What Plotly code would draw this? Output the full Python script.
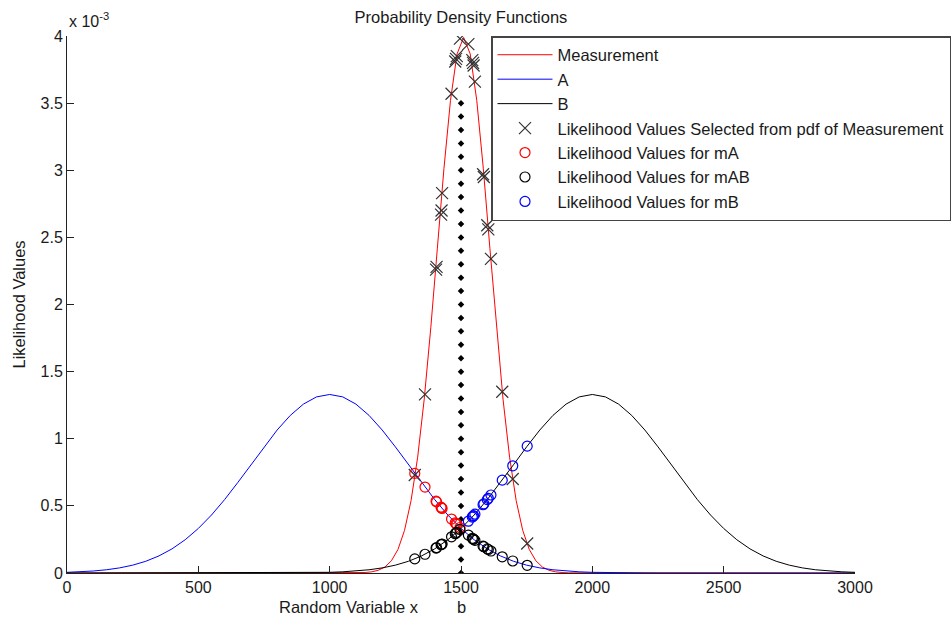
import plotly.graph_objects as go

# ---------------- data (likelihood values in units of 1e-3) ----------------
grid_x = [0, 50, 100, 150, 200, 250, 300, 350, 400, 450, 500, 550, 600, 650, 700, 750,
          800, 850, 900, 950, 1000, 1050, 1100, 1150, 1200, 1250, 1300, 1350, 1400, 1450,
          1500, 1550, 1600, 1650, 1700, 1750, 1800, 1850, 1900, 1950, 2000, 2050, 2100,
          2150, 2200, 2250, 2300, 2350, 2400, 2450, 2500, 2550, 2600, 2650, 2700, 2750,
          2800, 2850, 2900, 2950, 3000]

pdf_a = [0.0051, 0.0088, 0.0148, 0.0240, 0.0380, 0.0584, 0.0874, 0.1272, 0.1800, 0.2478,
         0.3318, 0.4319, 0.5467, 0.6734, 0.8066, 0.9398, 1.0650, 1.1737, 1.2580, 1.3117,
         1.3298, 1.3117, 1.2580, 1.1737, 1.0650, 0.9398, 0.8066, 0.6734, 0.5467, 0.4319,
         0.3318, 0.2478, 0.1800, 0.1272, 0.0874, 0.0584, 0.0380, 0.0240, 0.0148, 0.0088,
         0.0051, 0.0029, 0.0016, 0.0008, 0.0004, 0, 0, 0, 0, 0, 0, 0, 0, 0, 0, 0,
         0, 0, 0, 0, 0]

pdf_b = [0, 0, 0, 0, 0, 0, 0, 0, 0, 0, 0, 0, 0, 0, 0, 0,
         0.0004, 0.0008, 0.0016, 0.0029, 0.0051, 0.0088, 0.0148, 0.0240, 0.0380, 0.0584,
         0.0874, 0.1272, 0.1800, 0.2478, 0.3318, 0.4319, 0.5467, 0.6734, 0.8066, 0.9398,
         1.0650, 1.1737, 1.2580, 1.3117, 1.3298, 1.3117, 1.2580, 1.1737, 1.0650, 0.9398,
         0.8066, 0.6734, 0.5467, 0.4319, 0.3318, 0.2478, 0.1800, 0.1272, 0.0874, 0.0584,
         0.0380, 0.0240, 0.0148, 0.0088, 0.0051]

meas_x = [0, 1110, 1135, 1160, 1185, 1210, 1235, 1260, 1285, 1310, 1335, 1360, 1385, 1410,
          1435, 1460, 1485, 1510, 1535, 1560, 1585, 1610, 1635, 1660, 1685, 1710, 1735,
          1760, 1785, 1810, 1835, 1860, 1885, 1910, 3000]
meas_y = [0, 0.0013, 0.0035, 0.0087, 0.0203, 0.0443, 0.0909, 0.1753, 0.3174, 0.5399,
          0.8628, 1.2952, 1.8265, 2.4197, 3.0114, 3.5207, 3.8667, 3.9894, 3.8667, 3.5207,
          3.0114, 2.4197, 1.8265, 1.2952, 0.8628, 0.5399, 0.3174, 0.1753, 0.0909, 0.0443,
          0.0203, 0.0087, 0.0035, 0.0013, 0]

# samples left of b (x < 1500) and right of b
left_x = [1324, 1363, 1405, 1407, 1424, 1426, 1428, 1464, 1478, 1481, 1484, 1496]
left_meas = [0.73, 1.33, 2.26, 2.28, 2.67, 2.70, 2.83, 3.57, 3.81, 3.83, 3.85, 3.98]
left_a = [0.742, 0.640, 0.535, 0.530, 0.490, 0.485, 0.481, 0.402, 0.374, 0.368, 0.362, 0.339]
left_b = [0.105, 0.1395, 0.186, 0.1885, 0.2105, 0.213, 0.216, 0.2695, 0.2927, 0.2978, 0.303, 0.3243]

right_x = [1528, 1543, 1546, 1548, 1553, 1584, 1587, 1600, 1604, 1614, 1657, 1697, 1752]
right_meas = [3.94, 3.82, 3.80, 3.78, 3.66, 2.97, 2.95, 2.59, 2.56, 2.34, 1.35, 0.70, 0.22]
right_b = [0.3857, 0.4168, 0.4232, 0.4274, 0.4382, 0.5085, 0.5155, 0.5467, 0.5565, 0.5811,
           0.6918, 0.7984, 0.9450]
right_a = [0.2826, 0.2585, 0.2538, 0.2508, 0.2432, 0.1999, 0.1960, 0.1800, 0.1752, 0.1637,
           0.1208, 0.0895, 0.0574]

b_value = 1500
b_line_y = [0.0, 0.1, 0.2, 0.3, 0.4, 0.5, 0.6, 0.7, 0.8, 0.9, 1.0, 1.1, 1.2, 1.3, 1.4, 1.5,
            1.6, 1.7, 1.8, 1.9, 2.0, 2.1, 2.2, 2.3, 2.4, 2.5, 2.6, 2.7, 2.8, 2.9, 3.0, 3.1,
            3.2, 3.3, 3.4, 3.5]

y_ticks = [0, 0.5, 1, 1.5, 2, 2.5, 3, 3.5, 4]
x_ticks = [0, 500, 1000, 1500, 2000, 2500, 3000]

FONT = "Liberation Sans, Arial, sans-serif"
TXT = "#1a1a1a"

# layout geometry (pixels)
L, R_PAPER, T, B = 67, 951, 36, 573
AX_RIGHT = 855
PW = R_PAPER - L


def px(xpix):
    return (xpix - L) / PW


fig = go.Figure()

fig.add_trace(go.Scatter(x=meas_x, y=meas_y, mode="lines", name="Measurement",
                         line=dict(color="#ff0000", width=1)))
fig.add_trace(go.Scatter(x=grid_x, y=pdf_a, mode="lines", name="A",
                         line=dict(color="#0000ff", width=1)))
fig.add_trace(go.Scatter(x=grid_x, y=pdf_b, mode="lines", name="B",
                         line=dict(color="#000000", width=1)))

# vertical dotted marker line at b
fig.add_trace(go.Scatter(x=[b_value] * len(b_line_y), y=b_line_y, mode="markers",
                         showlegend=False,
                         marker=dict(symbol="diamond", size=5, color="#000000")))

fig.add_trace(go.Scatter(x=left_x + right_x, y=left_meas + right_meas, mode="markers",
                         name="Likelihood Values Selected from pdf of Measurement",
                         marker=dict(symbol="x-thin-open", size=12, color="#333333",
                                     line=dict(color="#333333", width=1.2))))
fig.add_trace(go.Scatter(x=left_x, y=left_a, mode="markers",
                         name="Likelihood Values for mA",
                         marker=dict(symbol="circle-open", size=10, color="#ff0000",
                                     line=dict(color="#ff0000", width=1.2))))
fig.add_trace(go.Scatter(x=left_x + right_x, y=left_b + right_a, mode="markers",
                         name="Likelihood Values for mAB",
                         marker=dict(symbol="circle-open", size=10, color="#000000",
                                     line=dict(color="#000000", width=1.2))))
fig.add_trace(go.Scatter(x=right_x, y=right_b, mode="markers",
                         name="Likelihood Values for mB",
                         marker=dict(symbol="circle-open", size=10, color="#0000ff",
                                     line=dict(color="#0000ff", width=1.2))))

fig.update_layout(
    width=952, height=623,
    margin=dict(l=L, r=952 - R_PAPER, t=T, b=623 - B, autoexpand=False),
    paper_bgcolor="white", plot_bgcolor="white",
    font=dict(family=FONT, size=16, color=TXT),
    title=dict(text="Probability Density Functions", x=461 / 952, xanchor="center",
               y=1 - 17 / 623, yanchor="middle", font=dict(size=16.5, color=TXT)),
    showlegend=True,
    legend=dict(x=px(491), xanchor="left", y=1.0, yanchor="top",
                bgcolor="white", bordercolor="#444444", borderwidth=1.5,
                font=dict(size=16.5, family=FONT, color=TXT),
                tracegroupgap=0, itemwidth=55),
    xaxis=dict(domain=[0, px(AX_RIGHT)], range=[0, 3000], tickvals=x_ticks,
               ticks="inside", ticklen=7,
               tickcolor="#222222", showline=True, linecolor="#222222", linewidth=1,
               showgrid=False, zeroline=False, mirror=False,
               tickfont=dict(size=16, color=TXT)),
    yaxis=dict(range=[0, 4], tickvals=y_ticks, ticks="inside", ticklen=7,
               tickcolor="#222222", showline=True, linecolor="#222222", linewidth=1,
               showgrid=False, zeroline=False, mirror=False,
               tickfont=dict(size=16, color=TXT)),
    annotations=[
        dict(text="Random Variable x", xref="paper", yref="paper", x=px(349),
             y=0, yshift=-34, xanchor="center", yanchor="middle", showarrow=False,
             font=dict(size=16.5, color=TXT)),
        dict(text="b", xref="x", yref="paper", x=b_value, y=0, yshift=-34,
             xanchor="center", yanchor="middle", showarrow=False,
             font=dict(size=16.5, color=TXT)),
        dict(text="Likelihood Values", xref="paper", yref="paper", x=px(18),
             y=0.5, xanchor="center", yanchor="middle", textangle=-90, showarrow=False,
             font=dict(size=16.5, color=TXT)),
        dict(text="x 10<sup>-3</sup>", xref="paper", yref="paper", x=0, y=1,
             xanchor="left", yanchor="bottom", yshift=4, showarrow=False,
             font=dict(size=16, color=TXT)),
    ],
)

fig.write_html("out.html", config={"responsive": False})
